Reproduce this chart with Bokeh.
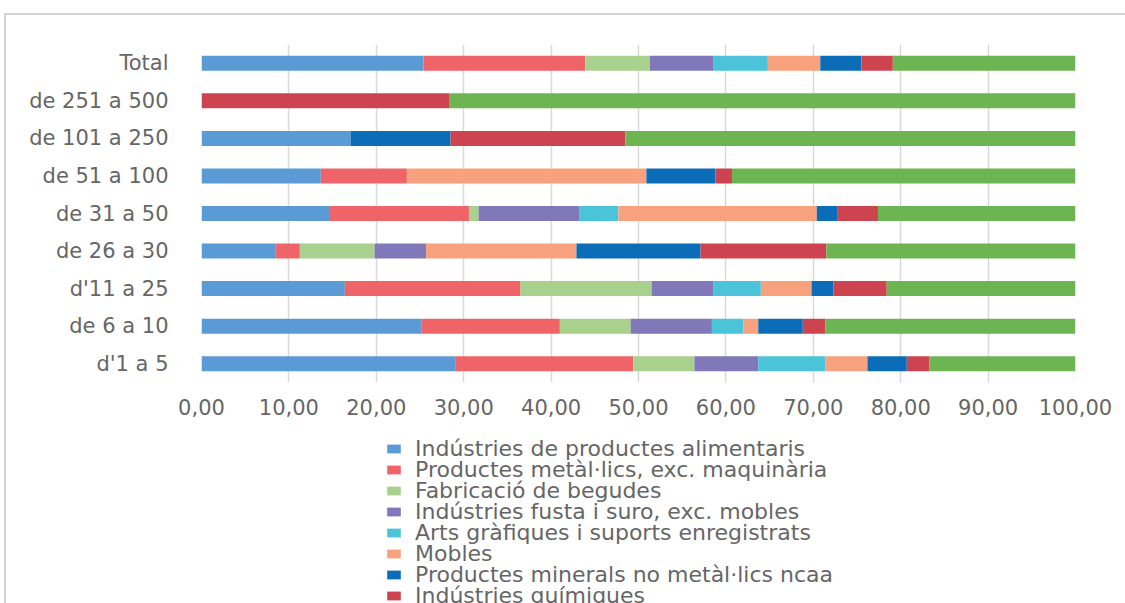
from bokeh.plotting import figure
from bokeh.layouts import column
from bokeh.models import (ColumnDataSource, FactorRange, Range1d, FixedTicker,
                          CustomJSTickFormatter, Legend, LegendItem)
from bokeh.embed import file_html
from bokeh.resources import INLINE

categories = ["Total", "de 251 a 500", "de 101 a 250", "de 51 a 100", "de 31 a 50",
              "de 26 a 30", "d'11 a 25", "de 6 a 10", "d'1 a 5"]

series_names = [
    "Indústries de productes alimentaris",
    "Productes metàl·lics, exc. maquinària",
    "Fabricació de begudes",
    "Indústries fusta i suro, exc. mobles",
    "Arts gràfiques i suports enregistrats",
    "Mobles",
    "Productes minerals no metàl·lics ncaa",
    "Indústries químiques",
    "Resta d'indústries",
]

alimentaris = [25.4, 0.0, 17.1, 13.65, 14.7, 8.5, 16.4, 25.2, 29.1]
metallics = [18.5, 0.0, 0.0, 9.85, 15.9, 2.75, 20.1, 15.8, 20.3]
begudes = [7.4, 0.0, 0.0, 0.0, 1.1, 8.55, 15.0, 8.1, 7.0]
fusta = [7.3, 0.0, 0.0, 0.0, 11.5, 5.9, 7.1, 9.3, 7.3]
arts_grafiques = [6.2, 0.0, 0.0, 0.0, 4.5, 0.0, 5.4, 3.6, 7.7]
mobles = [6.0, 0.0, 0.0, 27.4, 22.7, 17.2, 5.8, 1.7, 4.8]
minerals = [4.7, 0.0, 11.4, 7.9, 2.4, 14.2, 2.5, 5.1, 4.5]
quimiques = [3.6, 28.4, 20.0, 1.9, 4.6, 14.4, 6.1, 2.6, 2.6]
resta = [20.9, 71.6, 51.5, 39.3, 22.6, 28.5, 21.6, 28.6, 16.7]

tick_values = [0, 10, 20, 30, 40, 50, 60, 70, 80, 90, 100]

colors = ["#5B9BD5", "#EF6469", "#A9D18E", "#8078B8", "#4BC4DA",
          "#F7A27C", "#0B6DB8", "#CD4450", "#6DB552"]

keys = ["s0", "s1", "s2", "s3", "s4", "s5", "s6", "s7", "s8"]
series = [alimentaris, metallics, begudes, fusta, arts_grafiques, mobles,
          minerals, quimiques, resta]

data = {"cat": categories}
for k, s in zip(keys, series):
    data[k] = s
source = ColumnDataSource(data)

FONT = "DejaVu Sans"
TEXT_COLOR = "#666666"
FRAME_LINE = "#D4D4D4"
W = 1125
H1 = 430
H2 = 173

p = figure(width=W, height=H1,
           y_range=FactorRange(factors=list(reversed(categories))),
           x_range=Range1d(0, 100),
           output_backend="svg", toolbar_location=None,
           min_border_left=201, min_border_right=50,
           min_border_top=44, min_border_bottom=48)
p.border_fill_color = None
p.background_fill_color = None
p.styles = {
    "background": (f"linear-gradient({FRAME_LINE},{FRAME_LINE}) 4px 13px / 100% 2px no-repeat, "
                   f"linear-gradient({FRAME_LINE},{FRAME_LINE}) 4px 13px / 2px 100% no-repeat, white")
}

renderers = p.hbar_stack(keys, y="cat", height=0.4, source=source,
                         color=colors, line_color=None)

p.outline_line_color = None
p.ygrid.grid_line_color = None
p.xgrid.grid_line_color = "#D9D9D9"
p.xgrid.grid_line_width = 1.5
p.xaxis.ticker = FixedTicker(ticks=tick_values)
p.xaxis.formatter = CustomJSTickFormatter(code="return tick.toFixed(2).replace('.', ',');")

for ax in (p.xaxis[0], p.yaxis[0]):
    ax.axis_line_color = None
    ax.major_tick_line_color = None
    ax.minor_tick_line_color = None
    ax.major_tick_out = 0
    ax.major_tick_in = 0
    ax.major_label_text_font = FONT
    ax.major_label_text_font_size = "21px"
    ax.major_label_text_color = TEXT_COLOR

p.xaxis.major_label_standoff = 16
p.yaxis.major_label_standoff = 33

# legend figure (its own canvas so the legend is not clipped by the bar frame)
pl = figure(width=W, height=H2,
            y_range=FactorRange(factors=list(reversed(categories))),
            x_range=Range1d(0, 100),
            output_backend="svg", toolbar_location=None,
            x_axis_location=None, y_axis_location=None,
            min_border_left=201, min_border_right=50,
            min_border_top=0, min_border_bottom=0)
pl.border_fill_color = None
pl.background_fill_color = None
pl.styles = {
    "background": f"linear-gradient({FRAME_LINE},{FRAME_LINE}) 4px 0 / 2px 100% no-repeat, white"
}
pl.outline_line_color = None
pl.xgrid.grid_line_color = None
pl.ygrid.grid_line_color = None

proxy = pl.hbar_stack(keys[:8], y="cat", height=0.4, source=source,
                      color=colors[:8], line_color=None)
for r in proxy:
    r.visible = False

items = [LegendItem(label=n, renderers=[r]) for n, r in zip(series_names[:8], proxy)]

# two interleaved legends give the tight 21px row pitch of the original
legend_style = dict(glyph_width=17, glyph_height=11, label_standoff=13,
                    label_height=20, spacing=17, padding=0, margin=0,
                    label_text_font=FONT, label_text_font_size="22px",
                    label_text_color=TEXT_COLOR, inactive_fill_alpha=0,
                    border_line_color=None, background_fill_alpha=0)
legend_a = Legend(items=items[0::2], location=(184, 16.5), **legend_style)
legend_b = Legend(items=items[1::2], location=(184, -4.5), **legend_style)
pl.add_layout(legend_a, "center")
pl.add_layout(legend_b, "center")

layout = column(p, pl, spacing=0)
open("out.html", "w").write(file_html(layout, INLINE))
